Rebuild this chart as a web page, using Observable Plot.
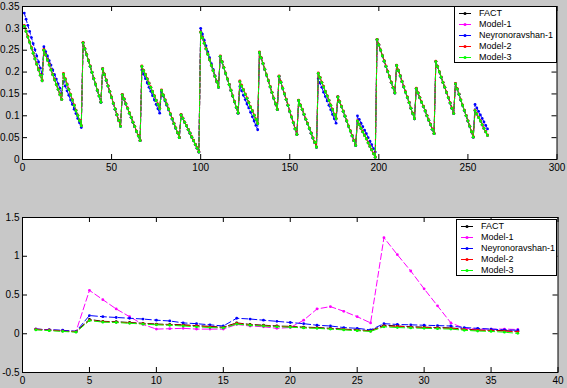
<!DOCTYPE html>
<html>
<head>
<meta charset="utf-8">
<script src="https://cdn.jsdelivr.net/npm/d3@7"></script>
<script src="https://cdn.jsdelivr.net/npm/@observablehq/plot@0.6"></script>
<style>
  html, body { margin: 0; padding: 0; background: #c8c8c8; }
  #wrap { position: relative; width: 567px; height: 388px; overflow: hidden; font-family: "Liberation Sans", Arial, sans-serif; }
  .chart { position: absolute; left: 0; }
  .legend { position: absolute; background: #fff; border: 1px solid #000; box-sizing: border-box; font-size: 9px; color: #000; }
  .legend .row { position: absolute; left: 0; height: 11px; display: flex; align-items: center; }
  .legend svg { display: block; }
  .legend span { margin-left: 7px; white-space: nowrap; line-height: 11px; }
</style>
</head>
<body>
<div id="wrap"></div>
<script>
// ---------- series meta ----------
const seriesNames = ["FACT", "Model-1", "Neyronoravshan-1", "Model-2", "Model-3"];
const seriesColors = ["#000000", "#ff00ff", "#0000ff", "#ff0000", "#00ff00"];

// ---------- top panel data (index 1..261) ----------
const topFact = [
  0.305,0.293,0.280,0.268,0.255,0.243,0.230,0.218,0.205,0.193,0.180,
  0.250,0.239,0.227,0.216,0.205,0.194,0.182,0.171,0.160,0.148,0.137,
  0.195,0.183,0.171,0.160,0.148,0.136,0.124,0.112,0.101,0.089,0.077,
  0.267,0.253,0.240,0.226,0.213,0.199,0.185,0.172,0.158,0.145,0.131,
  0.207,0.194,0.181,0.168,0.155,0.142,0.128,0.115,0.102,0.089,0.076,
  0.148,0.138,0.127,0.117,0.106,0.096,0.085,0.075,0.064,0.054,0.043,
  0.213,0.203,0.194,0.184,0.174,0.165,0.155,0.145,0.135,0.126,0.116,
  0.158,0.147,0.136,0.126,0.115,0.104,0.093,0.082,0.072,0.061,0.050,
  0.102,0.094,0.085,0.077,0.068,0.060,0.051,0.043,0.034,0.026,0.017,
  0.291,0.278,0.266,0.253,0.241,0.228,0.215,0.203,0.190,0.178,0.165,
  0.236,0.223,0.210,0.197,0.184,0.171,0.158,0.145,0.132,0.119,0.106,
  0.178,0.168,0.159,0.149,0.140,0.130,0.120,0.111,0.101,0.092,0.082,
  0.245,0.232,0.219,0.206,0.193,0.180,0.166,0.153,0.140,0.127,0.114,
  0.190,0.177,0.163,0.150,0.137,0.124,0.110,0.097,0.084,0.070,0.057,
  0.135,0.124,0.114,0.103,0.092,0.082,0.071,0.060,0.049,0.039,0.028,
  0.197,0.187,0.176,0.166,0.155,0.145,0.135,0.124,0.114,0.103,0.093,
  0.143,0.132,0.121,0.110,0.099,0.088,0.076,0.065,0.054,0.043,0.032,
  0.088,0.080,0.071,0.063,0.055,0.047,0.038,0.030,0.022,0.013,0.005,
  0.274,0.262,0.250,0.237,0.225,0.213,0.201,0.189,0.176,0.164,0.152,
  0.215,0.203,0.191,0.178,0.166,0.154,0.142,0.130,0.117,0.105,0.093,
  0.162,0.152,0.141,0.131,0.121,0.111,0.100,0.090,0.080,0.069,0.059,
  0.224,0.212,0.200,0.188,0.176,0.165,0.153,0.141,0.129,0.117,0.105,
  0.173,0.161,0.149,0.136,0.124,0.112,0.100,0.088,0.076,0.063,0.051,
  0.112,0.104,0.096,0.088,0.079,0.071,0.063,0.055
];
const topModel1 = topFact;
const topModel2 = [
  0.307,0.294,0.282,0.269,0.257,0.244,0.232,0.219,0.207,0.194,0.182,
  0.252,0.240,0.229,0.218,0.206,0.195,0.184,0.172,0.161,0.150,0.138,
  0.197,0.185,0.173,0.161,0.149,0.137,0.125,0.113,0.102,0.090,0.078,
  0.268,0.254,0.241,0.227,0.214,0.200,0.186,0.173,0.159,0.146,0.132,
  0.208,0.195,0.182,0.169,0.156,0.143,0.129,0.116,0.103,0.090,0.077,
  0.149,0.139,0.128,0.118,0.107,0.097,0.086,0.076,0.065,0.055,0.044,
  0.214,0.204,0.195,0.185,0.175,0.166,0.156,0.146,0.136,0.127,0.117,
  0.159,0.148,0.137,0.127,0.116,0.105,0.094,0.083,0.073,0.062,0.051,
  0.103,0.095,0.086,0.078,0.069,0.061,0.052,0.044,0.035,0.027,0.018,
  0.292,0.279,0.267,0.254,0.242,0.229,0.216,0.204,0.191,0.179,0.166,
  0.237,0.224,0.211,0.198,0.185,0.172,0.159,0.146,0.133,0.120,0.107,
  0.180,0.170,0.160,0.150,0.141,0.131,0.121,0.112,0.102,0.093,0.083,
  0.246,0.233,0.220,0.207,0.194,0.181,0.167,0.154,0.141,0.128,0.115,
  0.191,0.178,0.164,0.151,0.138,0.125,0.111,0.098,0.085,0.071,0.058,
  0.136,0.125,0.115,0.104,0.093,0.083,0.072,0.061,0.050,0.040,0.029,
  0.198,0.188,0.177,0.167,0.156,0.146,0.136,0.125,0.115,0.104,0.094,
  0.144,0.133,0.122,0.111,0.100,0.089,0.077,0.066,0.055,0.044,0.033,
  0.089,0.081,0.072,0.064,0.056,0.048,0.039,0.031,0.023,0.014,0.006,
  0.275,0.263,0.251,0.238,0.226,0.214,0.202,0.190,0.177,0.165,0.153,
  0.216,0.204,0.192,0.179,0.167,0.155,0.143,0.131,0.118,0.106,0.094,
  0.163,0.153,0.142,0.132,0.122,0.112,0.101,0.091,0.081,0.070,0.060,
  0.225,0.213,0.201,0.189,0.177,0.166,0.154,0.142,0.130,0.118,0.106,
  0.174,0.162,0.150,0.137,0.125,0.113,0.101,0.089,0.077,0.064,0.052,
  0.113,0.105,0.097,0.089,0.080,0.072,0.064,0.056
];
const topModel3 = topFact;
const topNeyron = [
  0.335,0.321,0.307,0.293,0.279,0.265,0.251,0.237,0.223,0.209,0.195,
  0.258,0.247,0.237,0.226,0.216,0.205,0.194,0.184,0.173,0.163,0.152,
  0.178,0.168,0.157,0.147,0.136,0.126,0.115,0.105,0.094,0.084,0.073,
  0.267,0.253,0.240,0.226,0.213,0.199,0.185,0.172,0.158,0.145,0.131,
  0.207,0.194,0.181,0.168,0.155,0.142,0.128,0.115,0.102,0.089,0.076,
  0.148,0.138,0.127,0.117,0.106,0.096,0.085,0.075,0.064,0.054,0.043,
  0.205,0.195,0.185,0.175,0.165,0.156,0.146,0.136,0.126,0.116,0.106,
  0.155,0.145,0.134,0.124,0.113,0.103,0.092,0.082,0.071,0.061,0.050,
  0.102,0.094,0.085,0.077,0.068,0.060,0.051,0.043,0.034,0.026,0.017,
  0.300,0.287,0.273,0.260,0.246,0.233,0.219,0.206,0.192,0.179,0.165,
  0.236,0.223,0.210,0.197,0.184,0.171,0.158,0.145,0.132,0.119,0.106,
  0.167,0.157,0.147,0.137,0.127,0.118,0.108,0.098,0.088,0.078,0.068,
  0.245,0.232,0.219,0.206,0.193,0.180,0.166,0.153,0.140,0.127,0.114,
  0.190,0.177,0.163,0.150,0.137,0.124,0.110,0.097,0.084,0.070,0.057,
  0.135,0.124,0.114,0.103,0.092,0.082,0.071,0.060,0.049,0.039,0.028,
  0.185,0.175,0.165,0.154,0.144,0.134,0.124,0.114,0.103,0.093,0.083,
  0.143,0.132,0.121,0.110,0.099,0.088,0.076,0.065,0.054,0.043,0.032,
  0.100,0.092,0.083,0.075,0.067,0.059,0.050,0.042,0.034,0.025,0.017,
  0.274,0.262,0.250,0.237,0.225,0.213,0.201,0.189,0.176,0.164,0.152,
  0.215,0.203,0.191,0.178,0.166,0.154,0.142,0.130,0.117,0.105,0.093,
  0.162,0.152,0.141,0.131,0.121,0.111,0.100,0.090,0.080,0.069,0.059,
  0.224,0.212,0.200,0.188,0.176,0.165,0.153,0.141,0.129,0.117,0.105,
  0.173,0.161,0.149,0.136,0.124,0.112,0.100,0.088,0.076,0.063,0.051,
  0.126,0.118,0.110,0.102,0.094,0.086,0.078,0.070
];
const topXTicks = [0, 50, 100, 150, 200, 250, 300];
const topYTicks = [0, 0.05, 0.1, 0.15, 0.2, 0.25, 0.3, 0.35];
const topXTickLabels = ["0", "50", "100", "150", "200", "250", "300"];
const topYTickLabels = ["0", "0.05", "0.1", "0.15", "0.2", "0.25", "0.3", "0.35"];

// ---------- bottom panel data (index 1..37) ----------
const botFact = [0.06,0.05,0.04,0.03,0.185,0.16,0.155,0.145,0.135,0.125,0.12,0.115,0.105,0.095,0.085,0.14,0.12,0.11,0.1,0.095,0.085,0.08,0.07,0.06,0.05,0.04,0.11,0.1,0.09,0.085,0.08,0.075,0.06,0.05,0.045,0.04,0.03];
const botModel1 = [0.06,0.05,0.04,0.03,0.56,0.44,0.32,0.22,0.12,0.06,0.065,0.07,0.06,0.06,0.06,0.12,0.1,0.09,0.07,0.08,0.175,0.32,0.35,0.29,0.22,0.14,1.24,1.02,0.81,0.58,0.36,0.14,0.07,0.06,0.06,0.06,0.055];
const botNeyron = [0.06,0.05,0.045,0.03,0.235,0.22,0.21,0.2,0.19,0.175,0.165,0.14,0.13,0.115,0.1,0.2,0.19,0.175,0.16,0.145,0.13,0.11,0.1,0.08,0.07,0.05,0.13,0.12,0.115,0.11,0.105,0.1,0.08,0.07,0.06,0.05,0.045];
const botModel2 = [0.055,0.045,0.035,0.025,0.175,0.155,0.15,0.14,0.13,0.12,0.115,0.11,0.1,0.09,0.08,0.135,0.115,0.105,0.095,0.09,0.08,0.075,0.065,0.055,0.045,0.035,0.1,0.095,0.085,0.08,0.075,0.07,0.055,0.045,0.04,0.035,0.025];
const botModel3 = [0.05,0.04,0.03,0.02,0.17,0.15,0.145,0.135,0.125,0.115,0.11,0.1,0.09,0.08,0.075,0.125,0.11,0.1,0.09,0.085,0.075,0.07,0.06,0.05,0.04,0.03,0.09,0.08,0.075,0.07,0.065,0.06,0.045,0.035,0.03,0.02,0.005];
const botXTicks = [0, 5, 10, 15, 20, 25, 30, 35, 40];
const botYTicks = [-0.5, 0, 0.5, 1, 1.5];
const botXTickLabels = ["0", "5", "10", "15", "20", "25", "30", "35", "40"];
const botYTickLabels = ["-0.5", "0", "0.5", "1", "1.5"];

// ---------- drawing ----------
const wrap = document.getElementById("wrap");
const FONT = "'Liberation Sans', Arial, sans-serif";

function panel({series, xDomain, yDomain, xTicks, yTicks, xLabels, yLabels, top, height, mt, mb, ml, mr, dash}) {
  const innerH = height - mt - mb;
  const innerW = 567 - ml - mr;
  const marks = [Plot.frame({fill: "#ffffff", stroke: null})];
  series.forEach((vals, s) => {
    marks.push(Plot.line(vals, {x: (d, i) => i + 1, y: d => d, stroke: seriesColors[s], strokeWidth: 1, strokeDasharray: dash}));
    marks.push(Plot.dot(vals, {x: (d, i) => i + 1, y: d => d, r: 1.4, fill: seriesColors[s], stroke: null}));
  });
  marks.push(
    Plot.tickX(xTicks, {x: d => d, insetTop: innerH - 5, stroke: "#000"}),
    Plot.tickX(xTicks, {x: d => d, insetBottom: innerH - 5, stroke: "#000"}),
    Plot.tickY(yTicks, {y: d => d, insetRight: innerW - 5, stroke: "#000"}),
    Plot.tickY(yTicks, {y: d => d, insetLeft: innerW - 5, stroke: "#000"}),
    Plot.frame({stroke: "#000", strokeWidth: 1}),
    Plot.axisX(xTicks, {tickSize: 0, tickPadding: 4, tickFormat: (d, i) => xLabels[i], fill: "#000", fontSize: 10}),
    Plot.axisY(yTicks, {tickSize: 0, tickPadding: 3, tickFormat: (d, i) => yLabels[i], fill: "#000", fontSize: 10})
  );
  const svg = Plot.plot({
    width: 567, height,
    marginTop: mt, marginBottom: mb, marginLeft: ml, marginRight: mr,
    x: {domain: xDomain, label: null},
    y: {domain: yDomain, label: null},
    style: {background: "transparent", fontFamily: FONT, fontSize: "10px", color: "#000", overflow: "visible"},
    marks
  });
  svg.classList.add("chart");
  svg.style.top = top + "px";
  wrap.appendChild(svg);
}

function legend(left, top, width, height, rowTops) {
  const box = document.createElement("div");
  box.className = "legend";
  Object.assign(box.style, {left: left + "px", top: top + "px", width: width + "px", height: height + "px"});
  seriesNames.forEach((name, s) => {
    const row = document.createElement("div");
    row.className = "row";
    row.style.top = rowTops[s] + "px";
    row.style.left = "3px";
    const c = seriesColors[s];
    row.innerHTML = `<svg width="14" height="11"><line x1="1" x2="13" y1="5.5" y2="5.5" stroke="${c}" stroke-width="1"/><circle cx="7" cy="5.5" r="1.5" fill="${c}"/></svg><span>${name}</span>`;
    box.appendChild(row);
  });
  wrap.appendChild(box);
}

panel({
  series: [topFact, topModel1, topNeyron, topModel2, topModel3],
  xDomain: [0, 300], yDomain: [0, 0.35],
  xTicks: topXTicks, yTicks: topYTicks, xLabels: topXTickLabels, yLabels: topYTickLabels,
  top: 0, height: 180, mt: 6, mb: 21, ml: 22, mr: 10.5, dash: "4,2"
});
panel({
  series: [botFact, botModel1, botNeyron, botModel2, botModel3],
  xDomain: [0, 40], yDomain: [-0.5, 1.5],
  xTicks: botXTicks, yTicks: botYTicks, xLabels: botXTickLabels, yLabels: botYTickLabels,
  top: 194, height: 194, mt: 23, mb: 16, ml: 22, mr: 9.5, dash: "6,3"
});
legend(454, 6, 103, 57, [1, 12, 23, 34, 45]);
legend(456, 219, 101, 57, [0.5, 11.5, 22.5, 33.5, 44.5]);
</script>
</body>
</html>
